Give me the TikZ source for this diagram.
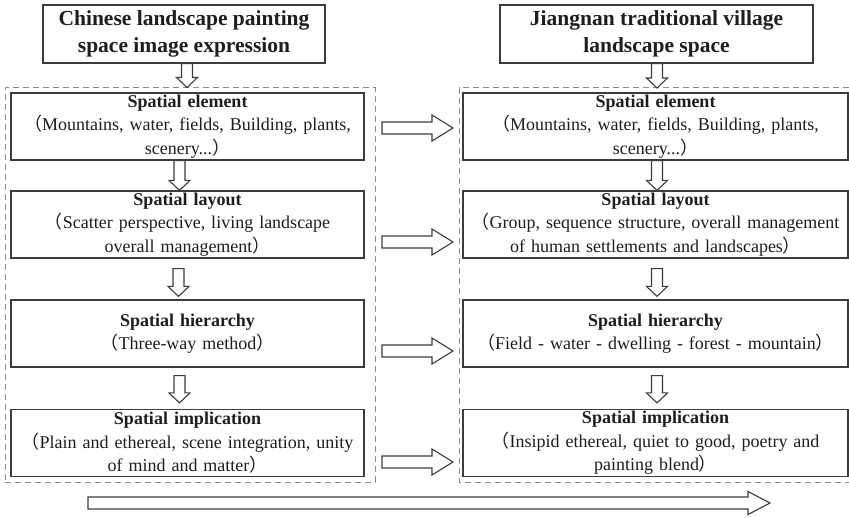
\documentclass[tikz,border=0pt]{standalone}
\usepackage{fontspec}
\setmainfont{Liberation Serif}
\newfontfamily\cjk{Noto Sans CJK SC}
\usetikzlibrary{calc}
\newcommand\fwl{{\cjk （}}
\newcommand\fwr{{\cjk ）}}
\definecolor{edgec}{HTML}{3C3C3C}
\definecolor{dashc}{HTML}{8C8C8C}
\definecolor{txtc}{HTML}{1E1E1E}
\tikzset{
  boxL/.style={draw=edgec, line width=1.2pt, fill=white, inner sep=0pt, align=center,
    text=txtc, minimum width=353pt, minimum height=67pt, text width=350pt,
    font=\fontsize{18}{23.5}\selectfont},
  boxR/.style={boxL, minimum width=385pt, text width=384pt},
  titlebox/.style={draw=edgec, line width=1.2pt, fill=white, inner sep=0pt, align=center,
    text=txtc, minimum height=58pt, font=\fontsize{21.5}{27}\selectfont\bfseries},
  dashedframe/.style={draw=dashc, line width=1pt, dash pattern=on 6pt off 4pt},
  blk/.style={draw=edgec, line width=1.1pt, fill=white, line join=miter}
}
% hollow block arrow pointing down: #1 start, #2 tip
\newcommand\blockdown[2]{%
  \draw[blk] let \p1=(#1), \p2=(#2) in
    (\x2-5.5pt,\y1) -- (\x2+5.5pt,\y1) -- (\x2+5.5pt,\y2+10pt) -- (\x2+10.5pt,\y2+10pt)
    -- (\x2,\y2) -- (\x2-10.5pt,\y2+10pt) -- (\x2-5.5pt,\y2+10pt) -- cycle;}
% hollow block arrow pointing right: #1 start, #2 tip, #3 shaft half, #4 head half, #5 head length
\newcommand\blockright[5]{%
  \draw[blk] let \p1=(#1), \p2=(#2) in
    (\x1,\y2+#3) -- (\x2-#5,\y2+#3) -- (\x2-#5,\y2+#4) -- (\x2,\y2)
    -- (\x2-#5,\y2-#4) -- (\x2-#5,\y2-#3) -- (\x1,\y2-#3) -- cycle;}
\begin{document}
\begin{tikzpicture}[x=1pt,y=-1pt]
\useasboundingbox[fill=white] (0,0) rectangle (849,518);

% dashed containers
\node[dashedframe, minimum width=370pt, minimum height=394pt, inner sep=0pt] (L) at (190,285) {};
\draw[dashedframe] (849,88) -- (459,88) -- (459,482) -- (849,482);
\coordinate (Rtop) at (657,88);

% titles
\node[titlebox, minimum width=282pt] (tL) at (184,34) {Chinese landscape painting\\space image expression};
\node[titlebox, minimum width=313pt] (tR) at (656.5,34) {Jiangnan traditional village\\landscape space};

% left boxes
\node[boxL] (bL1) at (187.5,126.5) {\textbf{Spatial element}\\\fwl Mountains, water, fields, Building, plants,\\scenery...\fwr};
\node[boxL] (bL2) at (187.5,224.5) {\textbf{Spatial layout}\\\fwl Scatter perspective, living landscape\\overall management\fwr};
\node[boxL] (bL3) at (187.5,333.5) {\textbf{Spatial hierarchy}\\\fwl Three-way method\fwr};
\node[boxL] (bL4) at (187.5,443) {\textbf{Spatial implication}\\\fwl Plain and ethereal, scene integration, unity\\of mind and matter\fwr};

% right boxes
\node[boxR] (bR1) at (655.5,126.5) {\textbf{Spatial element}\\\fwl Mountains, water, fields, Building, plants,\\scenery...\fwr};
\node[boxR] (bR2) at (655.5,224.5) {\textbf{Spatial layout}\\\fwl Group, sequence structure, overall management\\of human settlements and landscapes\fwr};
\node[boxR] (bR3) at (655.5,333.5) {\textbf{Spatial hierarchy}\\\fwl Field - water - dwelling - forest - mountain\fwr};
\node[boxR] (bR4) at (655.5,443) {\textbf{Spatial implication}\\\fwl Insipid ethereal, quiet to good, poetry and\\painting blend\fwr};

% vertical arrows, left
\blockdown{tL.south}{$(tL.south|-L.north)+(3,0)$}
\blockdown{bL1.south}{$(bL2.north)+(-8,0)$}
\blockdown{$(bL2.south)+(0,10)$}{$(bL3.north)+(-9,-3)$}
\blockdown{$(bL3.south)+(0,8)$}{$(bL4.north)+(-8,-6)$}

% vertical arrows, right
\blockdown{tR.south}{Rtop}
\blockdown{bR1.south}{$(bR2.north)+(1.5,0)$}
\blockdown{$(bR2.south)+(0,10)$}{$(bR3.north)+(1.5,-3)$}
\blockdown{$(bR3.south)+(0,8)$}{$(bR4.north)+(1.5,-6)$}

% horizontal arrows between columns
\coordinate (h1a) at (382,128); \coordinate (h1b) at (453,128);
\coordinate (h2a) at (382,242); \coordinate (h2b) at (453,242);
\coordinate (h3a) at (382,351); \coordinate (h3b) at (453,351);
\coordinate (h4a) at (382,462); \coordinate (h4b) at (453,462);
\blockright{h1a}{h1b}{6pt}{13pt}{21pt}
\blockright{h2a}{h2b}{6pt}{13pt}{21pt}
\blockright{h3a}{h3b}{6pt}{13pt}{21pt}
\blockright{h4a}{h4b}{6pt}{13pt}{21pt}

% bottom long arrow
\coordinate (ba) at (88,503); \coordinate (bb) at (770,503);
\blockright{ba}{bb}{6pt}{11.5pt}{22pt}
\end{tikzpicture}
\end{document}
